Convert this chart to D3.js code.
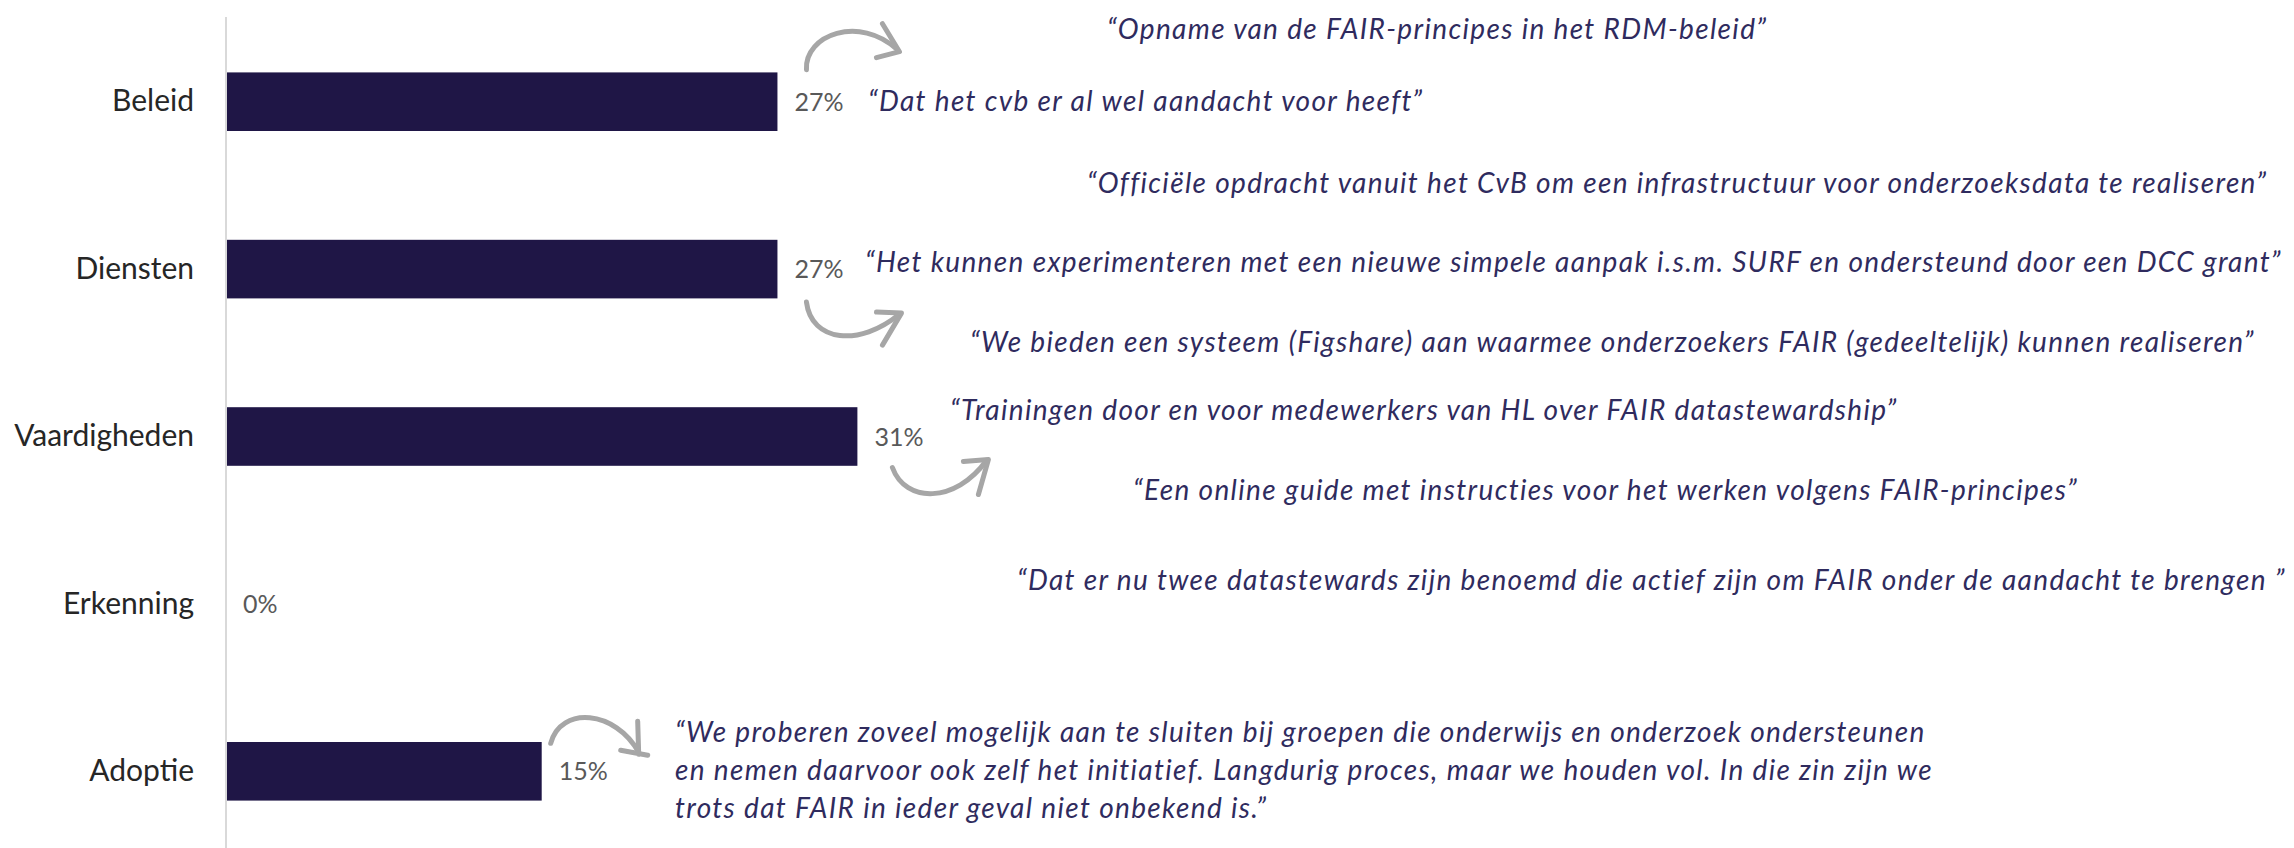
<!DOCTYPE html>
<html>
<head>
<meta charset="utf-8">
<script src="https://cdn.jsdelivr.net/npm/d3@7"></script>
<style>
  html, body { margin: 0; padding: 0; background: #ffffff; }
  svg { display: block; }
  .cat { font-family: Lato, "Open Sans", sans-serif; font-size: 30px; fill: #262626; }
  .pct { font-family: Lato, "Open Sans", sans-serif; font-size: 25px; fill: #595959; }
  .quote { font-family: Lato, "Open Sans", sans-serif; font-style: italic; font-size: 28px; letter-spacing: 1.35px; fill: #2f2b5e; }
</style>
</head>
<body>
<svg id="chart"></svg>
<script>
const categories = ['Beleid', 'Diensten', 'Vaardigheden', 'Erkenning', 'Adoptie'];
const shares = [26.9, 26.9, 30.8, 0, 15.4];

// quotes: text lines, anchor x, first baseline
const quotes = [
    { lines: ['\u201cOpname van de FAIR-principes in het RDM-beleid\u201d'], x: 1107, y: 39 },
    { lines: ['\u201cDat het cvb er al wel aandacht voor heeft\u201d'], x: 868, y: 111 },
    { lines: ['\u201cOffici\u00eble opdracht vanuit het CvB om een infrastructuur voor onderzoeksdata te realiseren\u201d'], x: 1087, y: 193 },
    { lines: ['\u201cHet kunnen experimenteren met een nieuwe simpele aanpak i.s.m. SURF en ondersteund door een DCC grant\u201d'], x: 865, y: 272 },
    { lines: ['\u201cWe bieden een systeem (Figshare) aan waarmee onderzoekers FAIR (gedeeltelijk) kunnen realiseren\u201d'], x: 970, y: 352 },
    { lines: ['\u201cTrainingen door en voor medewerkers van HL over FAIR datastewardship\u201d'], x: 950, y: 420 },
    { lines: ['\u201cEen online guide met instructies voor het werken volgens FAIR-principes\u201d'], x: 1133, y: 500 },
    { lines: ['\u201cDat er nu twee datastewards zijn benoemd die actief zijn om FAIR onder de aandacht te brengen \u201d'], x: 1017, y: 590 },
    { lines: [
        '\u201cWe proberen zoveel mogelijk aan te sluiten bij groepen die onderwijs en onderzoek ondersteunen',
        'en nemen daarvoor ook zelf het initiatief. Langdurig proces, maar we houden vol. In die zin zijn we',
        'trots dat FAIR in ieder geval niet onbekend is.\u201d'
      ], x: 675, y: 742 }
];

// curved arrows, relative to the bar end and bar centre
const arrows = [
    { cat: 'Beleid', curve: 'M29,-32 C27,-67 82,-87 120,-52', head: 'M105,-78 L122,-50 L99,-44' },
    { cat: 'Diensten', curve: 'M29,33 C34,73 82,78 122,45', head: 'M99,43 L124,44 L105,76' },
    { cat: 'Vaardigheden', curve: 'M35,31 C48,67 98,67 129,24', head: 'M106,25 L131,23 L121,58' },
    { cat: 'Adoptie', curve: 'M9,-28 C19,-66 74,-61 97,-19', head: 'M96,-50 L97,-17 M79,-21 L106,-16' }
];

const width = 2294, height = 848;
const svg = d3.select('#chart').attr('width', width).attr('height', height);

const x = d3.scaleLinear().domain([0, 100]).range([226, 2276]);
const y = d3.scaleBand().domain(categories).range([18, 855])
    .paddingInner(0.65).paddingOuter(0.325);

const data = categories.map((c, i) => ({ cat: c, value: shares[i] }));

// bars
svg.append('g')
    .selectAll('rect')
    .data(data)
    .join('rect')
    .attr('x', x(0))
    .attr('y', d => y(d.cat))
    .attr('width', d => x(d.value) - x(0))
    .attr('height', y.bandwidth())
    .attr('fill', '#1f1646');

// category axis
const yAxis = svg.append('g')
    .attr('transform', `translate(${x(0)},0)`)
    .call(d3.axisLeft(y).tickSize(0).tickPadding(32));
yAxis.select('.domain').remove();
yAxis.selectAll('text').attr('class', 'cat').attr('fill', null);
yAxis.attr('font-size', null).attr('font-family', null);

svg.append('line')
    .attr('x1', x(0)).attr('x2', x(0))
    .attr('y1', 17).attr('y2', height)
    .attr('stroke', '#d9d9d9')
    .attr('stroke-width', 2);

// value labels
svg.append('g')
    .selectAll('text')
    .data(data)
    .join('text')
    .attr('class', 'pct')
    .attr('x', d => x(d.value) + 17)
    .attr('y', d => y(d.cat) + y.bandwidth() / 2)
    .attr('dy', '0.36em')
    .text(d => d3.format('.0f')(d.value) + '%');

// arrows
const arrowG = svg.append('g')
    .attr('fill', 'none')
    .attr('stroke', '#a6a6a6')
    .attr('stroke-width', 5)
    .attr('stroke-linecap', 'round')
    .attr('stroke-linejoin', 'round');

arrows.forEach(a => {
    const v = shares[categories.indexOf(a.cat)];
    const g = arrowG.append('g')
        .attr('transform', `translate(${x(v)},${y(a.cat) + y.bandwidth() / 2})`);
    g.append('path').attr('d', a.curve);
    g.append('path').attr('d', a.head);
});

// quotes
quotes.forEach(q => {
    const t = svg.append('text')
        .attr('class', 'quote')
        .attr('x', q.x)
        .attr('y', q.y);
    q.lines.forEach((line, i) => {
        t.append('tspan')
            .attr('x', q.x)
            .attr('dy', i === 0 ? 0 : 38)
            .text(line);
    });
});
</script>
</body>
</html>
